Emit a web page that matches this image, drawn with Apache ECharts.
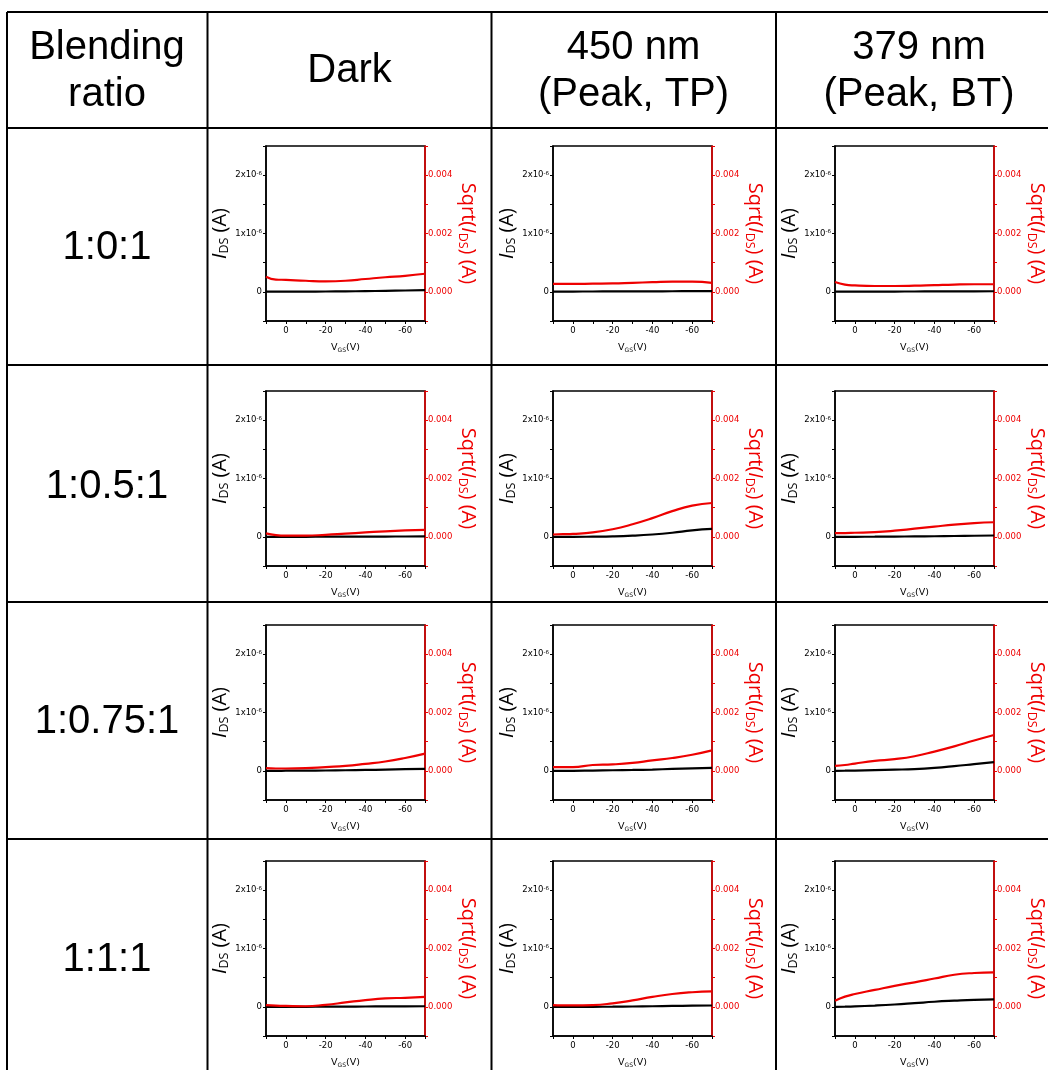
<!DOCTYPE html>
<html><head><meta charset="utf-8">
<script src="https://cdn.jsdelivr.net/npm/echarts@6/dist/echarts.min.js"></script>
<style>html,body{margin:0;padding:0;background:#fff}#c{width:1048px;height:1070px}</style>
</head><body><div id="c"></div>
<script>
// ---------------- data ----------------
const cornerHeader = 'Blending\nratio';
const colHeaders = ['Dark', '450 nm\n(Peak, TP)', '379 nm\n(Peak, BT)'];
const rowLabels = ['1:0:1', '1:0.5:1', '1:0.75:1', '1:1:1'];

// gate voltage (V) sampled along each transfer curve
const V_GS = [10, 5, 0, -10, -20, -30, -40, -50, -60, -70];

// I_DS (A) – black curves;  sqrt(I_DS) – red curves
// row 1:0:1
const ids_101_dark  = [0.005e-6, 0.005e-6, 0.005e-6, 0.005e-6, 0.006e-6, 0.008e-6, 0.012e-6, 0.017e-6, 0.023e-6, 0.030e-6];
const sqrt_101_dark = [0.00052, 0.00042, 0.00041, 0.00038, 0.00036, 0.00038, 0.00044, 0.00050, 0.00055, 0.00062];
const ids_101_450   = [0.004e-6, 0.004e-6, 0.005e-6, 0.006e-6, 0.007e-6, 0.008e-6, 0.009e-6, 0.010e-6, 0.011e-6, 0.012e-6];
const sqrt_101_450  = [0.00027, 0.00027, 0.00027, 0.00028, 0.00029, 0.00031, 0.00033, 0.00035, 0.00035, 0.00031];
const ids_101_379   = [0.003e-6, 0.003e-6, 0.003e-6, 0.004e-6, 0.005e-6, 0.006e-6, 0.007e-6, 0.008e-6, 0.009e-6, 0.010e-6];
const sqrt_101_379  = [0.00034, 0.00025, 0.00022, 0.00020, 0.00020, 0.00021, 0.00023, 0.00025, 0.00026, 0.00026];
// row 1:0.5:1
const ids_1051_dark  = [0, 0, 0, 0.001e-6, 0.002e-6, 0.003e-6, 0.004e-6, 0.005e-6, 0.006e-6, 0.007e-6];
const sqrt_1051_dark = [0.00012, 0.00006, 0.00004, 0.00004, 0.00007, 0.00011, 0.00015, 0.00019, 0.00022, 0.00024];
const ids_1051_450   = [0, 0, 0, 0.003e-6, 0.008e-6, 0.020e-6, 0.040e-6, 0.070e-6, 0.110e-6, 0.135e-6];
const sqrt_1051_450  = [0.00008, 0.00009, 0.00010, 0.00015, 0.00026, 0.00043, 0.00064, 0.00088, 0.00107, 0.00116];
const ids_1051_379   = [0, 0, 0.001e-6, 0.002e-6, 0.004e-6, 0.007e-6, 0.010e-6, 0.014e-6, 0.019e-6, 0.023e-6];
const sqrt_1051_379  = [0.00013, 0.00013, 0.00014, 0.00016, 0.00021, 0.00028, 0.00035, 0.00042, 0.00047, 0.00050];
// row 1:0.75:1
const ids_10751_dark  = [0, 0, 0.002e-6, 0.004e-6, 0.006e-6, 0.010e-6, 0.015e-6, 0.021e-6, 0.028e-6, 0.035e-6];
const sqrt_10751_dark = [0.00009, 0.00008, 0.00008, 0.00009, 0.00013, 0.00017, 0.00024, 0.00032, 0.00044, 0.00059];
const ids_10751_450   = [0, 0, 0, 0.005e-6, 0.010e-6, 0.015e-6, 0.022e-6, 0.032e-6, 0.042e-6, 0.050e-6];
const sqrt_10751_450  = [0.00013, 0.00013, 0.00013, 0.00020, 0.00022, 0.00027, 0.00036, 0.00044, 0.00055, 0.00070];
const ids_10751_379   = [0, 0.002e-6, 0.005e-6, 0.012e-6, 0.020e-6, 0.030e-6, 0.050e-6, 0.080e-6, 0.115e-6, 0.150e-6];
const sqrt_10751_379  = [0.00017, 0.00020, 0.00025, 0.00034, 0.00040, 0.00050, 0.00066, 0.00084, 0.00104, 0.00123];
// row 1:1:1
const ids_111_dark  = [0, 0, 0, 0.001e-6, 0.002e-6, 0.004e-6, 0.006e-6, 0.008e-6, 0.009e-6, 0.010e-6];
const sqrt_111_dark = [0.00006, 0.00004, 0.00003, 0.00002, 0.00007, 0.00015, 0.00023, 0.00029, 0.00031, 0.00034];
const ids_111_450   = [0, 0, 0, 0.001e-6, 0.003e-6, 0.006e-6, 0.010e-6, 0.015e-6, 0.020e-6, 0.023e-6];
const sqrt_111_450  = [0.00006, 0.00005, 0.00005, 0.00006, 0.00012, 0.00022, 0.00034, 0.00044, 0.00050, 0.00053];
const ids_111_379   = [0, 0.003e-6, 0.008e-6, 0.022e-6, 0.040e-6, 0.063e-6, 0.087e-6, 0.105e-6, 0.120e-6, 0.127e-6];
const sqrt_111_379  = [0.00021, 0.00035, 0.00044, 0.00058, 0.00072, 0.00084, 0.00097, 0.00110, 0.00116, 0.00118];

const cells = [
  [[ids_101_dark, sqrt_101_dark], [ids_101_450, sqrt_101_450], [ids_101_379, sqrt_101_379]],
  [[ids_1051_dark, sqrt_1051_dark], [ids_1051_450, sqrt_1051_450], [ids_1051_379, sqrt_1051_379]],
  [[ids_10751_dark, sqrt_10751_dark], [ids_10751_450, sqrt_10751_450], [ids_10751_379, sqrt_10751_379]],
  [[ids_111_dark, sqrt_111_dark], [ids_111_450, sqrt_111_450], [ids_111_379, sqrt_111_379]]
];

// ---------------- layout / style ----------------
const chart = echarts.init(document.getElementById('c'), null, {renderer: 'canvas', width: 1048, height: 1070});
const colLeft = [266, 553, 835];
const rowTop = [146, 391, 625, 861];
const W = 159, H = 175;
const RED = '#ee0000';
const SMALL = 'DejaVu Sans';
const NAMEF = 'Open Sans';
const BIG = 'Liberation Sans';

const grids = [], xAxes = [], yAxes = [], series = [];
cells.forEach((rowCells, r) => rowCells.forEach((cell, c) => {
  const i = grids.length;
  grids.push({left: colLeft[c], top: rowTop[r], width: W, height: H, show: true,
    borderColor: '#000', borderWidth: 1.5, backgroundColor: 'transparent',
    containLabel: false, outerBoundsMode: 'none'});
  xAxes.push({
    gridIndex: i, type: 'value', min: -70, max: 10, interval: 10, inverse: true,
    axisLine: {show: true, onZero: false, lineStyle: {color: '#000', width: 1.5}},
    axisTick: {show: true, length: 3, lineStyle: {color: '#000', width: 1}},
    splitLine: {show: false},
    axisLabel: {margin: 5, color: '#000', fontFamily: SMALL, fontSize: 8.5,
      formatter: v => { const k = Math.round(v); return (k <= 0 && k % 20 === 0) ? String(k) : ''; }},
    name: '{v|V}{s|GS}{v|(V)}', nameLocation: 'middle', nameGap: 21,
    nameTextStyle: {rich: {
      v: {fontFamily: SMALL, fontSize: 9.5, color: '#000', lineHeight: 11},
      s: {fontFamily: SMALL, fontSize: 6, color: '#000', lineHeight: 6, verticalAlign: 'bottom'}
    }}
  });
  yAxes.push({
    gridIndex: i, type: 'value', position: 'left', min: -5e-7, max: 2.5e-6, interval: 5e-7,
    axisLine: {show: true, onZero: false, lineStyle: {color: '#000', width: 1.5}},
    axisTick: {show: true, length: 3, lineStyle: {color: '#000', width: 1}},
    splitLine: {show: false},
    axisLabel: {margin: 4, color: '#000', fontFamily: SMALL, fontSize: 8.5,
      formatter: v => { const k = Math.round(v / 5e-7);
        if (k === 0) return '0'; if (k === 2) return '{a|1x10}{s|-6}'; if (k === 4) return '{a|2x10}{s|-6}'; return ''; },
      rich: {a: {fontFamily: SMALL, fontSize: 8.5, color: '#000', lineHeight: 10},
             s: {fontFamily: SMALL, fontSize: 5.5, color: '#000', lineHeight: 6, verticalAlign: 'top'}}},
    name: '{i|I}{d|DS}{n| (A)}', nameLocation: 'middle', nameGap: 31,
    nameTextStyle: {rich: {
      i: {fontFamily: NAMEF, fontSize: 20, fontStyle: 'italic', color: '#000', lineHeight: 22},
      d: {fontFamily: NAMEF, fontSize: 12.5, color: '#000', lineHeight: 9, verticalAlign: 'bottom'},
      n: {fontFamily: NAMEF, fontSize: 20, color: '#000', lineHeight: 22}
    }}
  });
  yAxes.push({
    gridIndex: i, type: 'value', position: 'right', min: -0.001, max: 0.005, interval: 0.001,
    axisLine: {show: true, onZero: false, lineStyle: {color: RED, width: 1.5}},
    axisTick: {show: true, length: 3, lineStyle: {color: RED, width: 1}},
    splitLine: {show: false},
    axisLabel: {margin: 3, color: RED, fontFamily: SMALL, fontSize: 8.5,
      formatter: v => { const k = Math.round(v * 1000); return (k >= 0 && k % 2 === 0) ? (k / 1000).toFixed(3) : ''; }},
    name: '{n|Sqrt(}{i|I}{d|DS}{n|) (A)}', nameLocation: 'middle', nameGap: 31, nameRotate: -90,
    nameTextStyle: {rich: {
      i: {fontFamily: NAMEF, fontSize: 20, fontStyle: 'italic', color: RED, lineHeight: 22},
      d: {fontFamily: NAMEF, fontSize: 12.5, color: RED, lineHeight: 9, verticalAlign: 'bottom'},
      n: {fontFamily: NAMEF, fontSize: 20, color: RED, lineHeight: 22}
    }}
  });
  series.push({type: 'line', xAxisIndex: i, yAxisIndex: 2 * i, smooth: true, showSymbol: false,
    data: V_GS.map((v, k) => [v, cell[0][k]]), lineStyle: {color: '#000', width: 2.2}, itemStyle: {color: '#000'}, z: 3});
  series.push({type: 'line', xAxisIndex: i, yAxisIndex: 2 * i + 1, smooth: true, showSymbol: false,
    data: V_GS.map((v, k) => [v, cell[1][k]]), lineStyle: {color: RED, width: 2.2}, itemStyle: {color: RED}, z: 4});
}));

// table frame
const hLines = [12, 128, 365, 602, 839];
const vLines = [7, 207.5, 491.5, 776];
const graphics = [];
hLines.forEach(y => graphics.push({type: 'line', shape: {x1: 7, y1: y, x2: 1048, y2: y}, style: {stroke: '#000', lineWidth: 2}, silent: true}));
vLines.forEach(x => graphics.push({type: 'line', shape: {x1: x, y1: 12, x2: x, y2: 1070}, style: {stroke: '#000', lineWidth: 2}, silent: true}));
const headerX = [107, 349.5, 633.5, 919];
[cornerHeader].concat(colHeaders).forEach((t, k) => graphics.push({type: 'text', x: headerX[k], y: 71,
  style: {text: t, fontFamily: BIG, fontSize: 40, fill: '#000', align: 'center', verticalAlign: 'middle', lineHeight: 47}, silent: true}));
const rowY = [248, 487, 722, 960];
rowLabels.forEach((t, k) => graphics.push({type: 'text', x: 107, y: rowY[k],
  style: {text: t, fontFamily: BIG, fontSize: 40, fill: '#000', align: 'center', verticalAlign: 'middle'}, silent: true}));

chart.setOption({
  animation: false,
  backgroundColor: '#fff',
  grid: grids, xAxis: xAxes, yAxis: yAxes, series: series,
  graphic: graphics
});
</script></body></html>
